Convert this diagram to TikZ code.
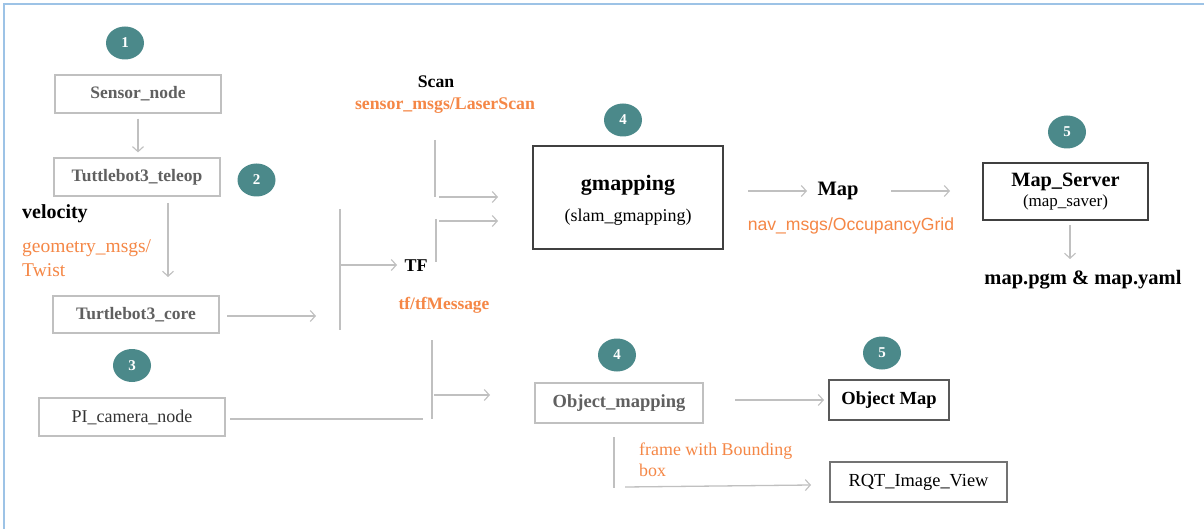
\documentclass[tikz,border=0pt]{standalone}
\usepackage{fontspec}
\setmainfont{Liberation Serif}
\newfontfamily\arialf{Liberation Sans}
\usetikzlibrary{arrows.meta,shapes.geometric}
\definecolor{teal1}{RGB}{75,137,138}
\definecolor{orng}{RGB}{245,135,70}
\definecolor{lgray}{RGB}{192,192,192}
\definecolor{txtgray}{RGB}{96,96,96}
\definecolor{bordblue}{RGB}{157,195,230}
\tikzset{
  arr/.style={draw=lgray, line width=1.3pt, -{Straight Barb[length=5pt,width=11pt,line width=1.1pt]}},
  bar/.style={draw=lgray, line width=1.3pt},
  lbox/.style={draw=lgray, line width=1.3pt, inner sep=0pt, text=txtgray, font=\bfseries\fontsize{17.5}{21}\selectfont},
  dbox/.style={draw=black!75, line width=1.3pt, inner sep=0pt, align=center},
  num/.style={ellipse, fill=teal1, minimum width=38pt, minimum height=33pt, inner sep=0pt, text=white, font=\bfseries\fontsize{15}{16}\selectfont},
  lbl/.style={inner sep=0pt},
}
\begin{document}
\begin{tikzpicture}[x=1pt,y=-1pt]
\useasboundingbox (0,0) rectangle (1204,529);
\fill[white] (0,0) rectangle (1204,529);
% frame border
\draw[bordblue, line width=2.5pt] (4,529) -- (4,4) -- (1204,4);

% numbered circles
\node[num] (n1) at (125,43) {1};
\node[num] (n2) at (256.5,180) {2};
\node[num] (n3) at (132,365.5) {3};
\node[num] (n4a) at (623,120) {4};
\node[num] (n4b) at (617,355) {4};
\node[num] (n5a) at (1067,132) {5};
\node[num] (n5b) at (882,353) {5};

% boxes
\node[lbox, minimum width=166pt, minimum height=38pt] (sensor) at (138,94) {Sensor\_node};
\node[lbox, minimum width=166pt, minimum height=38pt] (teleop) at (137,177) {Tuttlebot3\_teleop};
\node[lbox, minimum width=166pt, minimum height=37pt] (core) at (136,314.5) {Turtlebot3\_core};
\node[lbox, minimum width=186pt, minimum height=38pt, font=\fontsize{18}{21}\selectfont, text=black!80] (picam) at (132,417) {PI\_camera\_node};
\node[lbox, minimum width=168pt, minimum height=40pt, font=\bfseries\fontsize{18.5}{21}\selectfont] (objmapping) at (619,403) {Object\_mapping};
\node[dbox, minimum width=190pt, minimum height=103pt] (gmap) at (628,197.5) {};
\node[lbl, font=\bfseries\fontsize{22}{24}\selectfont] (gmtitle) at (628,185) {gmapping};
\node[lbl, font=\fontsize{18}{21}\selectfont] (gmsub) at (628,217) {(slam\_gmapping)};
\node[dbox, minimum width=165pt, minimum height=57pt] (mapserver) at (1065.5,191.5)
  {{\bfseries\fontsize{20.3}{22}\selectfont Map\_Server}\\[3pt]{\fontsize{17}{19}\selectfont (map\_saver)}};
\node[dbox, draw=black!65, minimum width=120pt, minimum height=40pt, font=\bfseries\fontsize{18.5}{21}\selectfont] (objectmap) at (889,400) {Object Map};
\node[dbox, draw=black!55, minimum width=177pt, minimum height=40pt, font=\fontsize{18.4}{21}\selectfont] (rqt) at (918.5,482) {RQT\_Image\_View};

% labels
\node[lbl, anchor=west, font=\bfseries\fontsize{20}{22}\selectfont] (velocity) at (22,214) {velocity};
\node[lbl, anchor=west, text=orng, font=\fontsize{19.5}{22}\selectfont] (geom1) at (22,248) {geometry\_msgs/};
\node[lbl, anchor=west, text=orng, font=\fontsize{19.5}{22}\selectfont] (geom2) at (22,270) {Twist};
\node[lbl, font=\bfseries\fontsize{17.7}{20}\selectfont] (scan) at (436,82) {Scan};
\node[lbl, text=orng, font=\bfseries\fontsize{17.8}{20}\selectfont] (laser) at (445,106) {sensor\_msgs/LaserScan};
\node[lbl, font=\bfseries\fontsize{18}{20}\selectfont] (tf) at (416,266) {TF};
\node[lbl, text=orng, font=\bfseries\fontsize{17.4}{20}\selectfont] (tfmsg) at (444,305) {tf/tfMessage};
\node[lbl, font=\bfseries\fontsize{20.5}{22}\selectfont] (map) at (838,191) {Map};
\node[lbl, text=orng, font=\arialf\fontsize{17.6}{20}\selectfont] (navmsg) at (851,226) {nav\_msgs/OccupancyGrid};
\node[lbl, font=\bfseries\fontsize{20.5}{22}\selectfont] (mapfiles) at (1083,280) {map.pgm \& map.yaml};
\node[lbl, anchor=base west, text=orng, font=\fontsize{17.9}{20}\selectfont] (frame1) at (639,455) {frame with Bounding};
\node[lbl, anchor=base west, text=orng, font=\fontsize{17.9}{20}\selectfont] (frame2) at (639,476) {box};

% free coordinates for connectors
\coordinate (tv1) at (168,203);
\coordinate (tv2) at (168,277);
\coordinate (c1) at (227,316);
\coordinate (c2) at (316,316);
\coordinate (b1t) at (340,209);
\coordinate (b1b) at (340,330);
\coordinate (b1a) at (341,265);
\coordinate (b1e) at (397,265);
\coordinate (p1) at (230,419);
\coordinate (p2) at (423,419);
\coordinate (b2t) at (432,340);
\coordinate (b2b) at (432,419);
\coordinate (b2a) at (434,395);
\coordinate (b2e) at (490,395);
\coordinate (s1t) at (435,140);
\coordinate (s1b) at (435,197);
\coordinate (s1a) at (439,197);
\coordinate (s1e) at (498,197);
\coordinate (t1t) at (436,219);
\coordinate (t1b) at (436,262);
\coordinate (t1a) at (439,221);
\coordinate (t1e) at (498,221);
\coordinate (m1) at (748,191);
\coordinate (m2) at (807,191);
\coordinate (m3) at (891,191);
\coordinate (m4) at (950,191);
\coordinate (f1) at (1070,225);
\coordinate (f2) at (1070,259);
\coordinate (o1) at (735,400);
\coordinate (o2) at (824,400);
\coordinate (r1t) at (614,437);
\coordinate (r1b) at (614,488);
\coordinate (r1a) at (625,487);
\coordinate (r1e) at (811,485);

% connectors
\draw[arr] ([yshift=-5pt]sensor.south) -- ([yshift=5pt]sensor.south |- teleop.north);
\draw[arr] (tv1) -- (tv2);
\draw[arr] (c1) -- (c2);
\draw[bar] (b1t) -- (b1b);
\draw[arr] (b1a) -- (b1e);
\draw[bar] (p1) -- (p2);
\draw[bar] (b2t) -- (b2b);
\draw[arr] (b2a) -- (b2e);
\draw[bar] (s1t) -- (s1b);
\draw[arr] (s1a) -- (s1e);
\draw[bar] (t1t) -- (t1b);
\draw[arr] (t1a) -- (t1e);
\draw[arr] (m1) -- (m2);
\draw[arr] (m3) -- (m4);
\draw[arr] (f1) -- (f2);
\draw[arr] (o1) -- (o2);
\draw[bar] (r1t) -- (r1b);
\draw[arr] (r1a) -- (r1e);
\end{tikzpicture}
\end{document}
